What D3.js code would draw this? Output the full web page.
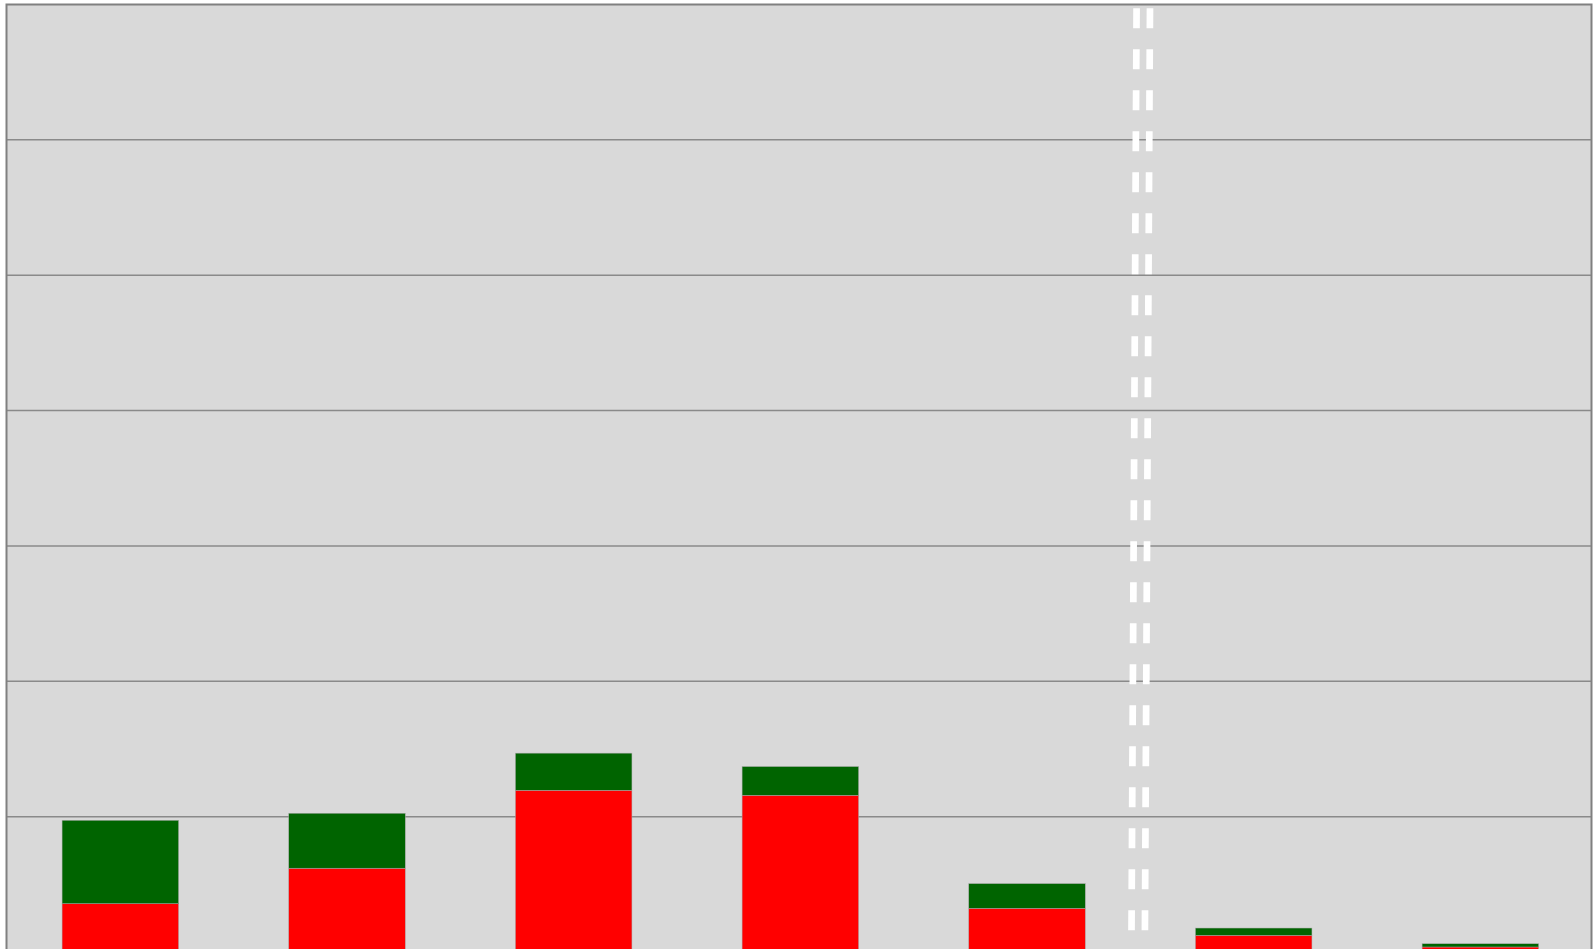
<!DOCTYPE html>
<html>
<head>
<meta charset="utf-8">
<script src="https://cdn.jsdelivr.net/npm/d3@7"></script>
<style>
  body { margin: 0; background: #fff; overflow: hidden; }
  svg { display: block; }
</style>
</head>
<body>
<svg id="chart"></svg>
<script>
// categories and stacked values (bottom red, top green)
const categories = ['A', 'B', 'C', 'D', 'E', 'F', 'G'];
const redValues = [3.57, 6.19, 11.95, 11.58, 3.23, 1.23, 0.37];
const greenValues = [6.16, 4.06, 2.74, 2.12, 1.82, 0.54, 0.24];
const gridTicks = [10, 20, 30, 40, 50, 60];
// dashed marker, in band-index units: [bottom value, top value]
const markerPos = [4.99, 5.013];

const W = 1593, H = 949;
const svg = d3.select('#chart').attr('width', W).attr('height', H);

const plot = { left: 6.5, right: 1591.5, top: 4.5 };

// Scales
const x = d3.scaleBand()
  .domain(categories)
  .range([7, 1593.7])
  .paddingInner(0.486)
  .paddingOuter(0.243);
const y = d3.scaleLinear().domain([0, 70]).range([952, 4.5]);
const xi = d3.scaleLinear().domain([0, categories.length]).range(x.range());

// Background
svg.append('rect')
  .attr('x', plot.left)
  .attr('y', plot.top)
  .attr('width', plot.right - plot.left)
  .attr('height', H - plot.top + 5)
  .attr('fill', '#d9d9d9');

// Gridlines
svg.append('g')
  .selectAll('line')
  .data(gridTicks)
  .join('line')
  .attr('x1', plot.left)
  .attr('x2', plot.right)
  .attr('y1', d => y(d))
  .attr('y2', d => y(d))
  .attr('stroke', '#8a8a8a')
  .attr('stroke-width', 1.5);

// Stacked bars
const rows = categories.map((c, i) => ({ name: c, red: redValues[i], green: greenValues[i] }));
const series = d3.stack().keys(['red', 'green'])(rows);
const color = { red: '#ff0000', green: '#006400' };

svg.append('g')
  .selectAll('g')
  .data(series)
  .join('g')
  .attr('fill', d => color[d.key])
  .selectAll('rect')
  .data(d => d)
  .join('rect')
  .attr('x', d => x(d.data.name))
  .attr('width', x.bandwidth())
  .attr('y', d => y(d[1]))
  .attr('height', d => y(d[0]) - y(d[1]))
  .attr('stroke', '#a8a8a8')
  .attr('stroke-width', 0.5);

// Dashed double marker line
const yTop = 4.5, yBot = 952;
[-6.7, 6.7].forEach(off => {
  svg.append('line')
    .attr('x1', xi(markerPos[1]) + off)
    .attr('y1', yTop)
    .attr('x2', xi(markerPos[0]) + off)
    .attr('y2', yBot)
    .attr('stroke', '#ffffff')
    .attr('stroke-width', 6.7)
    .attr('stroke-dasharray', '20,21')
    .attr('stroke-dashoffset', 37.2);
});

// Border
svg.append('path')
  .attr('d', `M${plot.left},${H + 5}V${plot.top}H${plot.right}V${H + 5}`)
  .attr('fill', 'none')
  .attr('stroke', '#808080')
  .attr('stroke-width', 2);
</script>
</body>
</html>
